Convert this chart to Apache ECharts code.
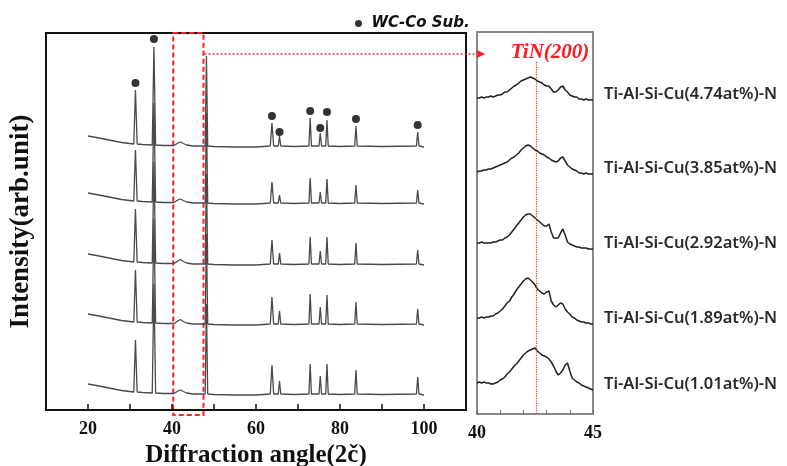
<!DOCTYPE html>
<html>
<head>
<meta charset="utf-8">
<script src="https://cdn.jsdelivr.net/npm/echarts@6/dist/echarts.min.js"></script>
<style>
html, body { margin: 0; padding: 0; background: #fff; }
#chart { width: 787px; height: 466px; }
</style>
</head>
<body>
<div id="chart"></div>
<script>
// sample names, top to bottom
var sampleNames = ['Ti-Al-Si-Cu(4.74at%)-N', 'Ti-Al-Si-Cu(3.85at%)-N', 'Ti-Al-Si-Cu(2.92at%)-N', 'Ti-Al-Si-Cu(1.89at%)-N', 'Ti-Al-Si-Cu(1.01at%)-N'];

// left panel: full scan 2theta
var leftX = [20, 22, 25, 28, 30.9, 31.3, 31.7, 33, 35.3, 35.7, 36.1, 38, 40.5, 41.4, 42.0, 42.7, 43.5, 45, 47.9, 48.2, 48.5, 50, 55, 60,
	63.4, 63.8, 64.2, 65.3, 65.6, 65.9, 69, 72.6, 72.9, 73.2, 75.0, 75.3, 75.6, 76.6, 76.9, 77.2, 80, 83.5, 83.8, 84.1, 90, 98.2, 98.5, 98.8, 100];
var left474 = [10, 8.5, 6, 3.5, 2, 56, 2, 1.5, 1, 99, 1, 0.5, 0.5, 3, 4, 2.5, 1, 0, 0, 90, 0, -0.5, -1, -1, 0, 23, 0, 0, 10, 0, -0.5, 0, 28, 0, 0, 13, 0, 0, 26, 0, -0.5, 0, 20, 0, -0.5, 0, 14, 0, -1];
var left385 = [10, 8.5, 6, 3.5, 2, 53, 2, 1.5, 1, 100, 1, 0.5, 0.5, 3, 4, 2.5, 1, 0, 0, 90, 0, -0.5, -1, -1, 0, 21, 0, 0, 8, 0, -0.5, 0, 25, 0, 0, 11, 0, 0, 24, 0, -0.5, 0, 18, 0, -0.5, 0, 13, 0, -1];
var left292 = [10, 8.5, 6, 3.5, 2, 55, 2, 1.5, 1, 102, 1, 0.5, 0.5, 3, 4.5, 2.5, 1, 0, 0, 90, 0, -0.5, -1, -1, 0, 24, 0, 0, 11, 0, -0.5, 0, 27, 0, 0, 13, 0, 0, 27, 0, -0.5, 0, 21, 0, -0.5, 0, 14, 0, -1];
var left189 = [10, 8.5, 6, 3.5, 2, 54, 2, 1.5, 1, 105, 1, 0.5, 0.5, 3, 4.5, 2.5, 1, 0, 0, 90, 0, -0.5, -1, -1, 0, 27, 0, 0, 13, 0, -0.5, 0, 30, 0, 0, 17, 0, 0, 29, 0, -0.5, 0, 22, 0, -0.5, 0, 15, 0, -1];
var left101 = [10, 8.5, 6, 3.5, 2, 54, 2, 1.5, 1, 110, 1, 0.5, 0.5, 3, 4, 2.5, 1, 0, 0, 90, 0, -0.5, -1, -1, 0, 29, 0, 0, 13, 0, -0.5, 0, 30, 0, 0, 18, 0, 0, 30, 0, -0.5, 0, 24, 0, -0.5, 0, 17, 0, -1];
var leftOffsets = [264, 207, 146, 86, 16];

// WC-Co substrate peak marks (top pattern)
var wcX = [31.3, 35.7, 63.8, 65.6, 72.9, 75.3, 76.9, 83.8, 98.5];
var wcY = [327, 371, 294, 278, 299, 282, 298, 291, 285];

// right panel: TiN(200) zoom, 40-45 deg, step 0.1
var rightX = [];
for (var k = 0; k <= 50; k++) rightX.push(+(40 + k * 0.1).toFixed(1));
var right474 = [0, 0, 1, 0, 1, 1, 2, 1, 2, 3, 3, 4, 6, 6, 8, 10, 12, 13, 15, 17, 18, 19, 20, 21, 20, 19, 17, 16, 15, 13,
	12, 12, 9, 6, 6, 8, 11, 12, 8, 6, 3, 2, 1, 1, -1, -1, -2, -1, -2, -2, -2];
var right385 = [0, 1, 1, 2, 2, 3, 3, 4, 5, 6, 7, 8, 9, 10, 12, 14, 15, 17, 19, 22, 24, 26, 27, 26, 24, 22, 21, 19, 18, 17,
	15, 14, 12, 11, 10, 11, 14, 15, 11, 7, 5, 3, 2, 1, -1, -1, -2, -1, -2, -2, -2];
var right292 = [0, 0, 1, 0, 0, 0, 0, 1, 1, 2, 3, 3, 5, 6, 8, 11, 14, 17, 20, 23, 26, 28, 29, 29, 27, 25, 23, 21, 19, 17,
	17, 19, 11, 5, 5, 5, 10, 14, 8, 1, -1, -2, -3, -4, -4, -5, -5, -5, -6, -6, -6];
var right189 = [0, 0, 1, 0, 1, 1, 2, 2, 4, 5, 7, 9, 12, 15, 17, 21, 24, 28, 31, 34, 37, 39, 40, 38, 36, 33, 29, 27, 25, 24,
	26, 27, 17, 13, 11, 13, 15, 14, 9, 6, 4, 1, 0, -2, -3, -4, -4, -5, -5, -6, -6];
var right101 = [0, 1, 0, 1, 0, 0, -1, -1, 0, 1, 3, 4, 6, 9, 11, 14, 17, 19, 22, 25, 28, 30, 32, 33, 34, 35, 32, 30, 28, 27,
	26, 24, 21, 17, 12, 8, 10, 13, 18, 20, 12, 5, 3, 1, 0, -2, -3, -4, -5, -6, -7];
var rightOffsets = [316, 242, 171, 96, 31];

var leftSets = [left474, left385, left292, left189, left101];
var rightSets = [right474, right385, right292, right189, right101];
var TIN_200 = 42.55;

var chart = echarts.init(document.getElementById('chart'));

var series = [];
for (var i = 0; i < sampleNames.length; i++) {
	var ld = [];
	for (var j = 0; j < leftX.length; j++) ld.push([leftX[j], leftSets[i][j] + leftOffsets[i]]);
	series.push({
		name: sampleNames[i] + ' full',
		type: 'line',
		xAxisIndex: 0,
		yAxisIndex: 0,
		data: ld,
		symbol: 'none',
		lineStyle: { color: '#4a4a4a', width: 1.3 }
	});
	var rd = [];
	for (var j = 0; j < rightX.length; j++) rd.push([rightX[j], rightSets[i][j] + rightOffsets[i]]);
	series.push({
		name: sampleNames[i],
		type: 'line',
		xAxisIndex: 1,
		yAxisIndex: 1,
		data: rd,
		symbol: 'none',
		lineStyle: { color: '#222', width: 1.5 },
		endLabel: {
			show: true,
			formatter: '{a}',
			distance: 11,
			offset: [0, -6],
			color: '#2a2a2a',
			fontFamily: 'Noto Sans',
			fontWeight: 600,
			fontSize: 16.5
		}
	});
}

var wcData = [];
for (var i = 0; i < wcX.length; i++) wcData.push([wcX[i], wcY[i]]);
series.push({
	name: 'WC-Co Sub.',
	type: 'scatter',
	xAxisIndex: 0,
	yAxisIndex: 0,
	data: wcData,
	symbol: 'circle',
	symbolSize: 8,
	itemStyle: { color: '#000' }
});

// red dotted TiN(200) line
series[1].markLine = {
	silent: true,
	symbol: 'none',
	label: { show: false },
	lineStyle: { color: '#ff3030', type: 'dotted', width: 1.2 },
	data: [[{ coord: [TIN_200, 352] }, { coord: [TIN_200, 0] }]]
};

var titleFont = { color: '#111', fontFamily: 'Liberation Serif', fontWeight: 'bold', fontSize: 25 };

var option = {
	animation: false,
	legend: {
		data: ['WC-Co Sub.'],
		left: 350,
		top: 11,
		icon: 'circle',
		itemWidth: 16,
		itemHeight: 7,
		textStyle: { fontFamily: 'DejaVu Sans', fontStyle: 'italic', fontWeight: 'bold', fontSize: 15, color: '#111' }
	},
	grid: [
		{ left: 46, top: 33, width: 420, height: 377, show: true, borderColor: '#111', borderWidth: 2, outerBoundsMode: 'none' },
		{ left: 477, top: 32, width: 116, height: 382, show: true, borderColor: '#888', borderWidth: 2, outerBoundsMode: 'none' }
	],
	xAxis: [
		{
			type: 'value', gridIndex: 0, min: 10, max: 110, interval: 10,
			axisLine: { lineStyle: { color: '#111', width: 2 } },
			axisTick: { inside: true, length: 6, lineStyle: { color: '#111', width: 1.5 } },
			splitLine: { show: false },
			axisLabel: {
				margin: 10, color: '#111', fontFamily: 'Liberation Serif', fontWeight: 'bold', fontSize: 18,
				formatter: function(v) { return (v % 20 === 0) ? String(v) : ''; }
			},
			name: 'Diffraction angle(2č)', nameLocation: 'middle', nameGap: 33,
			nameTextStyle: titleFont
		},
		{
			type: 'value', gridIndex: 1, min: 40, max: 45, interval: 1,
			axisLine: { lineStyle: { color: '#888', width: 2 } },
			axisTick: { inside: true, length: 4, lineStyle: { color: '#666' } },
			splitLine: { show: false },
			axisLabel: {
				margin: 10, color: '#111', fontFamily: 'Liberation Serif', fontWeight: 'bold', fontSize: 18,
				formatter: function(v) { return (v === 40 || v === 45) ? String(v) : ''; }
			}
		}
	],
	yAxis: [
		{
			type: 'value', gridIndex: 0, min: 0, max: 377,
			axisLine: { show: false }, axisTick: { show: false }, axisLabel: { show: false }, splitLine: { show: false },
			name: 'Intensity(arb.unit)', nameLocation: 'middle', nameGap: 11,
			nameTextStyle: { color: '#111', fontFamily: 'Liberation Serif', fontWeight: 'bold', fontSize: 27 }
		},
		{ type: 'value', gridIndex: 1, min: 0, max: 382, show: false }
	],
	series: series
};
chart.setOption(option);

// dashed box on the left, arrow to the zoom panel, TiN(200) caption
var bx1 = chart.convertToPixel({ xAxisIndex: 0 }, 40.3);
var bx2 = chart.convertToPixel({ xAxisIndex: 0 }, 47.5);
var bTop = chart.convertToPixel({ yAxisIndex: 0 }, 377);
var bBot = chart.convertToPixel({ yAxisIndex: 0 }, 0) + 5;
var arrowY = chart.convertToPixel({ yAxisIndex: 0 }, 356);
var arrowTip = chart.convertToPixel({ xAxisIndex: 1 }, 40.35);
var tinPos = chart.convertToPixel({ xAxisIndex: 1, yAxisIndex: 1 }, [43.15, 361]);

chart.setOption({
	graphic: [
		{
			type: 'rect', silent: true,
			shape: { x: bx1, y: bTop, width: bx2 - bx1, height: bBot - bTop },
			style: { fill: 'none', stroke: '#ff2020', lineWidth: 2, lineDash: [5, 3] }
		},
		{
			type: 'line', silent: true,
			shape: { x1: bx2 + 1, y1: arrowY, x2: arrowTip - 6, y2: arrowY },
			style: { stroke: '#ff3030', lineWidth: 1.5, lineDash: [2, 2] }
		},
		{
			type: 'polygon', silent: true,
			shape: { points: [[arrowTip, arrowY], [arrowTip - 8, arrowY - 4], [arrowTip - 8, arrowY + 4]] },
			style: { fill: '#ff2020' }
		},
		{
			type: 'text', silent: true,
			x: tinPos[0], y: tinPos[1],
			style: {
				text: 'TiN(200)', fill: '#ff1a1a', align: 'center', verticalAlign: 'middle',
				font: 'italic bold 21px "Liberation Serif"'
			}
		}
	]
});
</script>
</body>
</html>
